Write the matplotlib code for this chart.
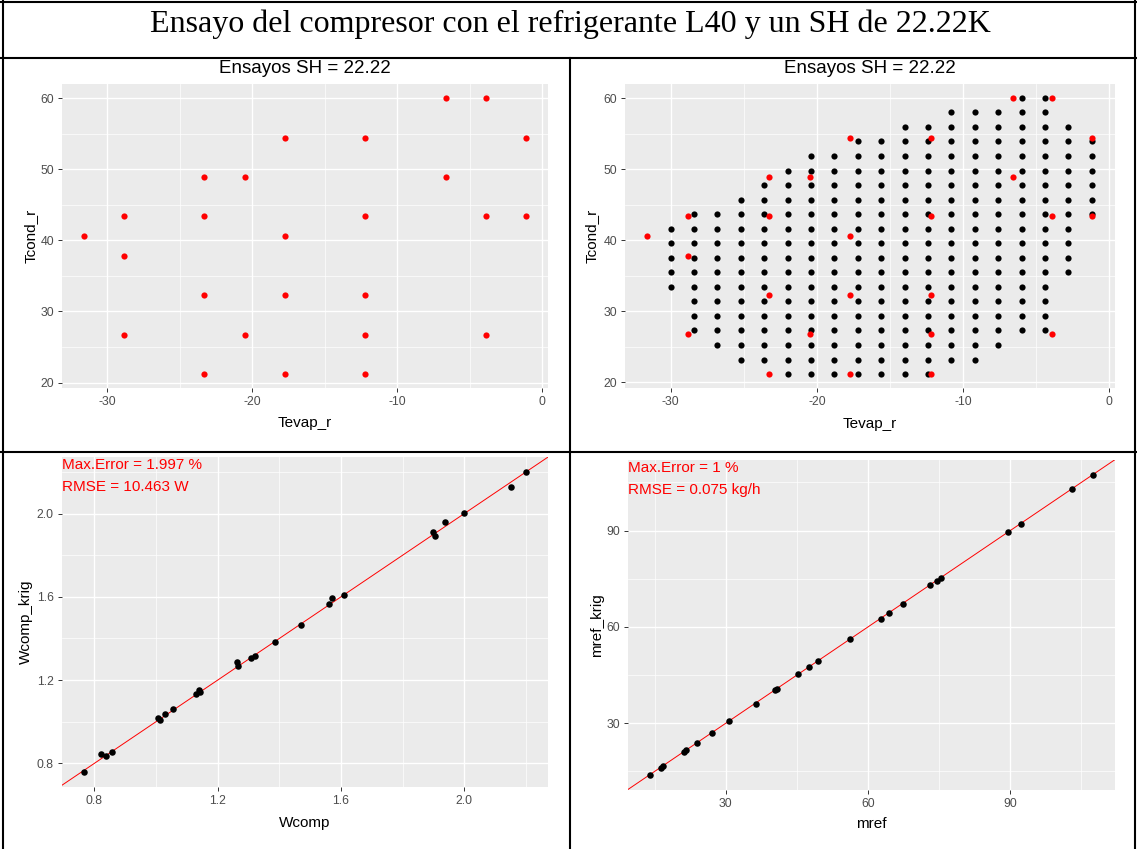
import numpy as np
import matplotlib
matplotlib.use("Agg")
import matplotlib.pyplot as plt
from matplotlib.lines import Line2D

plt.rcParams['font.family'] = ['Liberation Sans', 'DejaVu Sans']
plt.rcParams['axes.unicode_minus'] = False

W, H = 1137, 849

# kriging grid (black points): columns of Tevap, and Tcond rows
tevap_grid = [-30.0, -28.4, -26.8, -25.2, -23.6, -22.0, -20.4, -18.8, -17.2, -15.6,
              -14.0, -12.4, -10.8, -9.2, -7.6, -6.0, -4.4, -2.8, -1.2]
tcond_rows = [21.1, 23.2, 25.2, 27.3, 29.3, 31.4, 33.4, 35.5, 37.5, 39.6,
              41.6, 43.7, 45.7, 47.8, 49.8, 51.9, 53.9, 56.0, 58.0, 60.0]
# lowest / highest Tcond found in each column
tcond_col_min = [33.4, 27.3, 25.2, 23.2, 23.2, 21.1, 21.1, 21.1, 21.1, 21.1,
                 21.1, 21.1, 23.2, 23.2, 25.2, 27.3, 27.3, 35.5, 43.7]
tcond_col_max = [41.6, 43.7, 43.7, 45.7, 47.8, 49.8, 51.9, 51.9, 53.9, 53.9,
                 56.0, 56.0, 58.0, 58.0, 58.0, 60.0, 60.0, 56.0, 53.9]

# test points (red)
tevap_test = [-6.6, -3.9, -17.7, -12.2, -1.15, -23.3, -20.5, -6.6, -28.8, -23.3,
              -12.2, -3.9, -1.15, -31.6, -17.7, -28.8, -23.3, -17.7, -12.2, -28.8,
              -20.5, -12.2, -3.9, -23.3, -17.7, -12.2]
tcond_test = [60.0, 60.0, 54.45, 54.45, 54.45, 48.94, 48.94, 48.94, 43.43, 43.43,
              43.43, 43.43, 43.43, 40.59, 40.59, 37.74, 32.28, 32.28, 32.28, 26.73,
              26.73, 26.73, 26.73, 21.22, 21.22, 21.22]

# compressor power
wcomp = [0.766, 0.822, 0.839, 0.856, 1.005, 1.013, 1.029, 1.054, 1.131, 1.139,
         1.141, 1.262, 1.266, 1.308, 1.322, 1.385, 1.471, 1.561, 1.572, 1.609,
         1.900, 1.905, 1.936, 1.998, 2.153, 2.201]
wcomp_krig = [0.757, 0.845, 0.837, 0.852, 1.018, 1.007, 1.038, 1.059, 1.135, 1.154,
              1.145, 1.285, 1.267, 1.304, 1.318, 1.385, 1.463, 1.566, 1.592, 1.611,
              1.910, 1.892, 1.959, 2.005, 2.129, 2.201]

# refrigerant mass flow
mref = [14.05, 16.3, 16.7, 21.3, 21.7, 24.0, 27.1, 30.7, 36.4, 40.4,
        40.8, 45.3, 47.6, 49.4, 56.2, 62.75, 64.5, 67.3, 73.1, 74.5,
        75.3, 89.5, 92.2, 103.05, 107.5]
mref_krig = [13.9, 16.2, 16.8, 21.1, 21.6, 24.0, 27.0, 30.7, 36.1, 40.3,
             40.7, 45.2, 47.5, 49.5, 56.2, 62.6, 64.3, 67.2, 72.9, 74.3,
             75.2, 89.4, 92.0, 102.9, 107.3]

title = "Ensayo del compresor con el refrigerante L40 y un SH de 22.22K"
panel_title = "Ensayos SH = 22.22"


def px_axes(fig, left, top, right, bottom):
    return fig.add_axes([left / W, 1 - bottom / H, (right - left) / W, (bottom - top) / H])


def expand(vals):
    lo, hi = min(vals), max(vals)
    r = hi - lo
    return lo - 0.05 * r, hi + 0.05 * r


def gg_style(ax, xmaj, xmin, ymaj, ymin, xfmt, yfmt):
    ax.set_facecolor('#EBEBEB')
    for s in ax.spines.values():
        s.set_visible(False)
    ax.set_xticks(xmaj)
    ax.set_xticklabels([xfmt.format(v) for v in xmaj])
    ax.set_xticks(xmin, minor=True)
    ax.set_yticks(ymaj)
    ax.set_yticklabels([yfmt.format(v) for v in ymaj])
    ax.set_yticks(ymin, minor=True)
    ax.grid(which='major', color='white', lw=1.0)
    ax.grid(which='minor', color='white', lw=0.5)
    ax.set_axisbelow(True)
    ax.tick_params(which='major', length=2.7, width=0.7, color='#333333',
                   labelcolor='#4D4D4D', labelsize=8.8, pad=3.0)
    ax.tick_params(which='minor', length=0)


def labels(ax, xl, yl, ylx, xly):
    ax.set_xlabel(xl, fontsize=11, color='black')
    ax.xaxis.label.set_va('baseline')
    ax.xaxis.set_label_coords(0.5, xly)
    ax.set_ylabel(yl, fontsize=11, color='black')
    ax.yaxis.label.set_va('center')
    ax.yaxis.set_label_coords(ylx, 0.5)


def top_title(ax, text, height_px):
    ax.text(0.5, 1 + 11 / height_px, text, transform=ax.transAxes,
            ha='center', va='baseline', fontsize=13.5, color='black')


fig = plt.figure(figsize=(W / 100, H / 100), dpi=100)

# build the grid points column by column
gx, gy = [], []
for t, lo, hi in zip(tevap_grid, tcond_col_min, tcond_col_max):
    for tc in tcond_rows:
        if lo - 0.01 <= tc <= hi + 0.01:
            gx.append(t)
            gy.append(tc)

# panel 1: test points
ax1 = px_axes(fig, 61.8, 84.3, 547.6, 387.7)
ax1.scatter(tevap_test, tcond_test, s=20, color='#FF0000', lw=0, zorder=3)
ax1.set_xlim(expand(tevap_test))
ax1.set_ylim(expand(tcond_test))
gg_style(ax1, [-30, -20, -10, 0], [-25, -15, -5], [20, 30, 40, 50, 60],
         [25, 35, 45, 55], '{:d}', '{:d}')
labels(ax1, 'Tevap_r', 'Tcond_r', -0.0634, -0.128)
top_title(ax1, panel_title, 303.4)

# panel 2: grid + test points
ax2 = px_axes(fig, 625, 84.3, 1114.7, 388.3)
ax2.scatter(gx, gy, s=20, color='black', lw=0, zorder=3)
ax2.scatter(tevap_test, tcond_test, s=20, color='#FF0000', lw=0, zorder=4)
ax2.set_xlim(expand(gx + tevap_test))
ax2.set_ylim(expand(gy + tcond_test))
gg_style(ax2, [-30, -20, -10, 0], [-25, -15, -5], [20, 30, 40, 50, 60],
         [25, 35, 45, 55], '{:d}', '{:d}')
labels(ax2, 'Tevap_r', 'Tcond_r', -0.068, -0.13)
top_title(ax2, panel_title, 304.0)

# panel 3: Wcomp
ax3 = px_axes(fig, 61.8, 456.7, 548.4, 787.3)
ax3.axline((0, 0), slope=1, color='#FF0000', lw=0.7, zorder=2)
ax3.scatter(wcomp, wcomp_krig, s=22, color='black', lw=0, zorder=3)
ax3.set_xlim(expand(wcomp))
ax3.set_ylim(expand(wcomp_krig))
gg_style(ax3, [0.8, 1.2, 1.6, 2.0], [1.0, 1.4, 1.8, 2.2], [0.8, 1.2, 1.6, 2.0],
         [1.0, 1.4, 1.8, 2.2], '{:.1f}', '{:.1f}')
labels(ax3, 'Wcomp', 'Wcomp_krig', -0.0746, -0.119)
ax3.annotate('Max.Error = 1.997 %', xy=(0, 1), xycoords='axes fraction',
             xytext=(0, -1), textcoords='offset pixels', ha='left', va='top',
             fontsize=11, color='#FF0000')
ax3.annotate('RMSE = 10.463 W', xy=(0, 1), xycoords='axes fraction',
             xytext=(0, -23.5), textcoords='offset pixels', ha='left', va='top',
             fontsize=11, color='#FF0000')

# panel 4: mref
ax4 = px_axes(fig, 627.9, 460, 1115.4, 790)
ax4.axline((0, 0), slope=1, color='#FF0000', lw=0.7, zorder=2)
ax4.scatter(mref, mref_krig, s=22, color='black', lw=0, zorder=3)
ax4.set_xlim(expand(mref))
ax4.set_ylim(expand(mref_krig))
gg_style(ax4, [30, 60, 90], [15, 45, 75, 105], [30, 60, 90], [15, 45, 75, 105],
         '{:d}', '{:d}')
labels(ax4, 'mref', 'mref_krig', -0.063, -0.116)
ax4.annotate('Max.Error = 1 %', xy=(0, 1), xycoords='axes fraction',
             xytext=(0, -1), textcoords='offset pixels', ha='left', va='top',
             fontsize=11, color='#FF0000')
ax4.annotate('RMSE = 0.075 kg/h', xy=(0, 1), xycoords='axes fraction',
             xytext=(0, -23.5), textcoords='offset pixels', ha='left', va='top',
             fontsize=11, color='#FF0000')

# table frame
def hline(y, x0=0, x1=W):
    fig.add_artist(Line2D([x0 / W, x1 / W], [1 - y / H, 1 - y / H], color='black', lw=1.5))


def vline(x, y0=0, y1=H):
    fig.add_artist(Line2D([x / W, x / W], [1 - y0 / H, 1 - y1 / H], color='black', lw=1.5))


hline(1.5)
hline(57.5)
hline(452)
vline(2.5)
vline(1135)
vline(570, 57.5, H)

fig.text(570 / W, 1 - 32 / H, title, family=['Liberation Serif', 'DejaVu Serif'],
         fontsize=23, ha='center', va='baseline', color='black')

fig.savefig('out.png', dpi=100)
